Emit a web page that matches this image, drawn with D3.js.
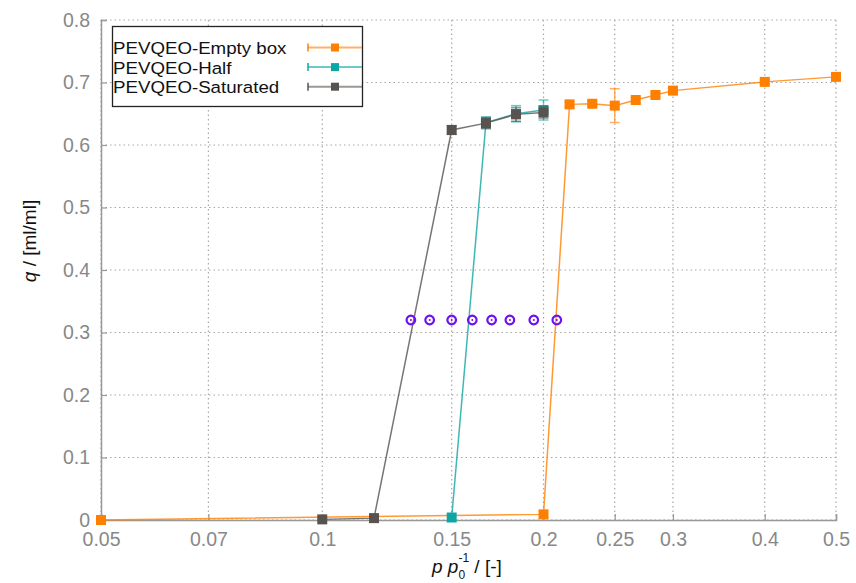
<!DOCTYPE html>
<html>
<head>
<meta charset="utf-8">
<script src="https://cdn.jsdelivr.net/npm/d3@7"></script>
<style>
  body { margin: 0; background: #fff; }
  svg { font-family: "Liberation Sans", Arial, sans-serif; }
</style>
</head>
<body>
<div id="chart"></div>
<script>
// Data
const emptyX   = [0.05, 0.2, 0.217, 0.233, 0.25, 0.267, 0.284, 0.3, 0.4, 0.5];
const emptyY   = [0, 0.009, 0.665, 0.666, 0.663, 0.672, 0.68, 0.687, 0.701, 0.709];
const emptyErr = [0, 0, 0.004, 0.004, 0.027, 0.004, 0.003, 0.003, 0.003, 0.003];

const halfX   = [0.15, 0.167, 0.1835, 0.2];
const halfY   = [0.004, 0.636, 0.65, 0.656];
const halfErr = [0, 0.009, 0.013, 0.016];

const satX   = [0.1, 0.1176, 0.15, 0.167, 0.1835, 0.2];
const satY   = [0.001, 0.003, 0.624, 0.635, 0.649, 0.652];
const satErr = [0, 0, 0.007, 0.009, 0.011, 0.009];

const markX = [0.132, 0.14, 0.15, 0.16, 0.17, 0.18, 0.194, 0.2085];
const markY = [0.32, 0.32, 0.32, 0.32, 0.32, 0.32, 0.32, 0.32];

const xTicks = [0.05, 0.07, 0.1, 0.15, 0.2, 0.25, 0.3, 0.4, 0.5];
const yTicks = [0, 0.1, 0.2, 0.3, 0.4, 0.5, 0.6, 0.7, 0.8];

const seriesNames = ["PEVQEO-Empty box", "PEVQEO-Half", "PEVQEO-Saturated"];
const seriesColors = ["#ff7f00", "#10a5a5", "#58534f"];

const W = 856, H = 583;
const margin = {top: 20, right: 20, bottom: 63, left: 101};
const width = W - margin.left - margin.right;
const height = H - margin.top - margin.bottom;

const svg = d3.select("#chart").append("svg")
    .attr("width", W).attr("height", H);
const g = svg.append("g").attr("transform", `translate(${margin.left},${margin.top})`);

const x = d3.scaleLog().domain([0.05, 0.5]).range([0, width]);
const y = d3.scaleLinear().domain([0, 0.8]).range([height, 0]);

// grid
g.append("g").selectAll("line").data(xTicks).join("line")
    .attr("x1", d => x(d)).attr("x2", d => x(d))
    .attr("y1", 0).attr("y2", height)
    .attr("stroke", "#a8a8a8").attr("stroke-width", 1.2)
    .attr("stroke-dasharray", "1.5,3");
g.append("g").selectAll("line").data(yTicks).join("line")
    .attr("x1", 0).attr("x2", width)
    .attr("y1", d => y(d)).attr("y2", d => y(d))
    .attr("stroke", "#a8a8a8").attr("stroke-width", 1.2)
    .attr("stroke-dasharray", "1.5,3");

// axes
const xAxis = g.append("g").attr("transform", `translate(0,${height})`)
    .call(d3.axisBottom(x).tickValues(xTicks).tickFormat(d3.format("")).tickSize(-6).tickPadding(12));
const yAxis = g.append("g")
    .call(d3.axisLeft(y).tickValues(yTicks).tickFormat(d => d === 0 ? "0" : d3.format(".1f")(d)).tickSize(-6).tickPadding(11));
[xAxis, yAxis].forEach(a => {
  a.select(".domain").attr("stroke", "#999").attr("stroke-width", 1.5);
  a.selectAll(".tick line").attr("stroke", "#999").attr("stroke-width", 1.2);
  a.selectAll(".tick text").attr("fill", "#888").style("font-size", "19.5px")
    .style("font-family", "'Liberation Sans', Arial, sans-serif");
});

// series
function drawSeries(xs, ys, errs, color) {
  const pts = xs.map((d, i) => ({x: d, y: ys[i], e: errs[i]}));
  const sg = g.append("g");
  sg.append("path").datum(pts)
    .attr("fill", "none").attr("stroke", color).attr("stroke-opacity", 0.8)
    .attr("stroke-width", 1.5)
    .attr("d", d3.line().x(d => x(d.x)).y(d => y(d.y)));
  const eb = sg.selectAll(".eb").data(pts.filter(d => d.e > 0)).join("g")
    .attr("stroke", color).attr("stroke-opacity", 0.6).attr("stroke-width", 1.5);
  eb.append("line").attr("x1", d => x(d.x)).attr("x2", d => x(d.x))
    .attr("y1", d => y(d.y - d.e)).attr("y2", d => y(d.y + d.e));
  eb.append("line").attr("x1", d => x(d.x) - 5).attr("x2", d => x(d.x) + 5)
    .attr("y1", d => y(d.y - d.e)).attr("y2", d => y(d.y - d.e));
  eb.append("line").attr("x1", d => x(d.x) - 5).attr("x2", d => x(d.x) + 5)
    .attr("y1", d => y(d.y + d.e)).attr("y2", d => y(d.y + d.e));
  sg.selectAll("rect").data(pts).join("rect")
    .attr("x", d => x(d.x) - 5).attr("y", d => y(d.y) - 5)
    .attr("width", 10).attr("height", 10).attr("fill", color);
}
drawSeries(emptyX, emptyY, emptyErr, seriesColors[0]);
drawSeries(halfX, halfY, halfErr, seriesColors[1]);
drawSeries(satX, satY, satErr, seriesColors[2]);

// purple markers
const mk = g.append("g").selectAll("g").data(markX.map((d, i) => ({x: d, y: markY[i]}))).join("g")
    .attr("transform", d => `translate(${x(d.x)},${y(d.y)})`);
mk.append("circle").attr("r", 4.3).attr("fill", "none").attr("stroke", "#7010f0").attr("stroke-width", 2.2);
mk.append("circle").attr("r", 1).attr("fill", "#7010f0");

// legend
const leg = svg.append("g");
leg.append("rect").attr("x", 112.5).attr("y", 26.5).attr("width", 250).attr("height", 80)
  .attr("fill", "#fff").attr("stroke", "#222").attr("stroke-width", 1.3);
seriesNames.forEach((name, i) => {
  const cy = 47.5 + i * 19.6;
  leg.append("text").attr("transform", `translate(113,${cy + 6.5}) scale(1.1,1)`)
    .style("font-size", "17px").attr("fill", "#111").text(name);
  const c = seriesColors[i];
  leg.append("line").attr("x1", 308).attr("x2", 362).attr("y1", cy).attr("y2", cy)
    .attr("stroke", c).attr("stroke-opacity", 0.6).attr("stroke-width", 2);
  leg.append("line").attr("x1", 308).attr("x2", 308).attr("y1", cy - 4).attr("y2", cy + 4)
    .attr("stroke", c).attr("stroke-width", 1.5);
  leg.append("rect").attr("x", 331).attr("y", cy - 4).attr("width", 8).attr("height", 8).attr("fill", c);
});

// axis titles
const yl = svg.append("text").attr("transform", "translate(36,241) rotate(-90)")
  .attr("text-anchor", "middle").style("font-size", "19px").attr("fill", "#111");
yl.append("tspan").style("font-style", "italic").text("q");
yl.append("tspan").text(" / [ml/ml]");

const xl = svg.append("text").attr("x", 432).attr("y", 573)
  .style("font-size", "19px").attr("fill", "#111");
xl.append("tspan").style("font-style", "italic").text("p p");
xl.append("tspan").attr("dy", 6).style("font-size", "12px").text("0");
xl.append("tspan").attr("dx", -6.7).attr("dy", -17).style("font-size", "12px").text("-1");
xl.append("tspan").attr("dy", 11).text(" / [-]");
</script>
</body>
</html>
